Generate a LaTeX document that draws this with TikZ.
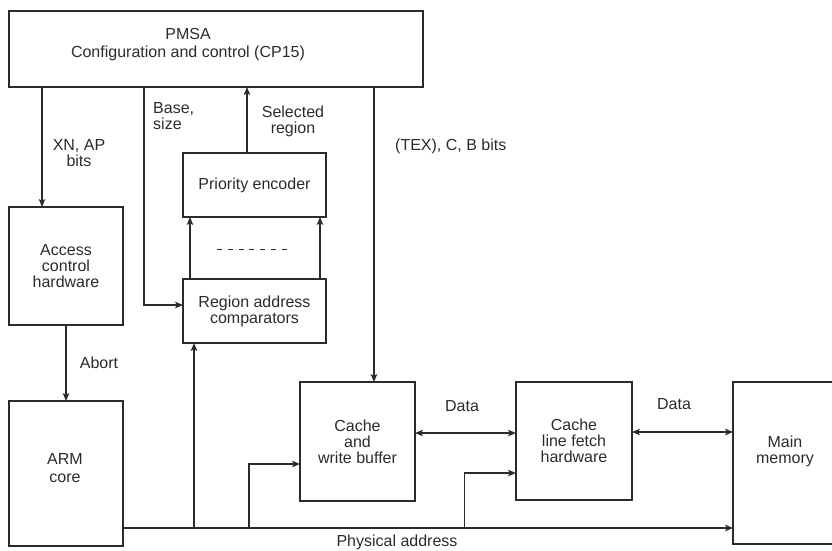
\documentclass[tikz,border=0pt]{standalone}
\usepackage{fontspec}
\setmainfont{Liberation Sans}
\usetikzlibrary{arrows.meta}
\definecolor{ink}{HTML}{2B2B2B}
\newcommand{\diafont}{\fontsize{16}{16}\selectfont}
\begin{document}
\begin{tikzpicture}[x=1pt,y=-1pt,
  box/.style={draw=ink, line width=1.2pt, inner sep=0pt, outer sep=0pt, align=center, font=\diafont, text=ink},
  txt/.style={inner sep=0pt, align=center, font=\diafont, text=ink},
  arr/.style={draw=ink, line width=1.2pt, -{Stealth[length=8pt,width=6.5pt,inset=2pt]}},
  darr/.style={draw=ink, line width=1.2pt, {Stealth[length=8pt,width=6.5pt,inset=2pt]}-{Stealth[length=8pt,width=6.5pt,inset=2pt]}},
  wire/.style={draw=ink, line width=1.2pt},
]
\useasboundingbox (0,0) rectangle (832,550);

% boxes
\node[box, minimum width=414, minimum height=76] (pmsa) at (216,49) {};
\node[txt] (pmsatxt) at (188,45) {PMSA\\[2pt]Configuration and control (CP15)};
\node[box, minimum width=114, minimum height=118] (access) at (66,266) {Access\\control\\hardware};
\node[box, minimum width=114, minimum height=145] (arm) at (66,473.5) {};
\node[txt] (armtxt) at (65,468) {ARM\\[2pt]core};
\node[box, minimum width=143, minimum height=64] (prio) at (254.5,185) {Priority encoder};
\node[box, minimum width=143, minimum height=64] (region) at (254.5,311) {Region address\\comparators};
\node[box, minimum width=115, minimum height=119] (cache) at (357.5,441.5) {Cache\\and\\write buffer};
\node[box, minimum width=116, minimum height=118] (fetch) at (574,441) {Cache\\line fetch\\hardware};
\node[box, minimum width=130, minimum height=162] (mem) at (798,463) {};
\node[txt] (memtxt) at (785,451) {Main\\memory};

% helper coordinates
\coordinate (xa) at (42,0);
\coordinate (xb) at (144,0);
\coordinate (yb) at (0,305);
\coordinate (xs) at (247,0);
\coordinate (x1) at (190,0);
\coordinate (x2) at (320,0);
\coordinate (xt) at (374,0);
\coordinate (yp) at (0,528);
\coordinate (xr) at (194,0);
\coordinate (xc) at (249,0);
\coordinate (yc) at (0,464);
\coordinate (xf) at (464.5,0);
\coordinate (yf) at (0,473);
\coordinate (yd1) at (0,433);
\coordinate (yd2) at (0,432);
\coordinate (da) at (217,249);
\coordinate (db) at (287,249);

% connectors
\draw[arr] (xa |- pmsa.south) -- (xa |- access.north);
\draw[arr] (xb |- pmsa.south) |- (region.west |- yb);
\draw[arr] (xs |- prio.north) -- (xs |- pmsa.south);
\draw[arr] (x1 |- region.north) -- (x1 |- prio.south);
\draw[arr] (x2 |- region.north) -- (x2 |- prio.south);
\draw[wire, dash pattern=on 5pt off 5.8pt, line width=1pt] (da) -- (db);
\draw[arr] (xt |- pmsa.south) -- (xt |- cache.north);
\draw[arr] (access.south) -- (arm.north);
\draw[arr] (arm.east |- yp) -- (mem.west |- yp);
\draw[arr] (xr |- yp) -- (xr |- region.south);
\draw[arr] (xc |- yp) |- (cache.west |- yc);
\draw[arr] (xf |- yp) |- (fetch.west |- yf);
\draw[darr] (cache.east |- yd1) -- (fetch.west |- yd1);
\draw[darr] (fetch.east |- yd2) -- (mem.west |- yd2);

% labels
\node[txt] (lxn) at (79,153) {XN, AP\\bits};
\node[txt, align=left, anchor=west] (lbase) at (153,116) {Base,\\size};
\node[txt] (lsel) at (293,121) {Selected\\region};
\node[txt, anchor=west] (ltex) at (395,146) {(TEX), C, B bits};
\node[txt] (labort) at (99,363) {Abort};
\node[txt] (ldata1) at (462,406) {Data};
\node[txt] (ldata2) at (674,404) {Data};
\node[txt] (lphys) at (397,542) {Physical address};
\end{tikzpicture}
\end{document}
